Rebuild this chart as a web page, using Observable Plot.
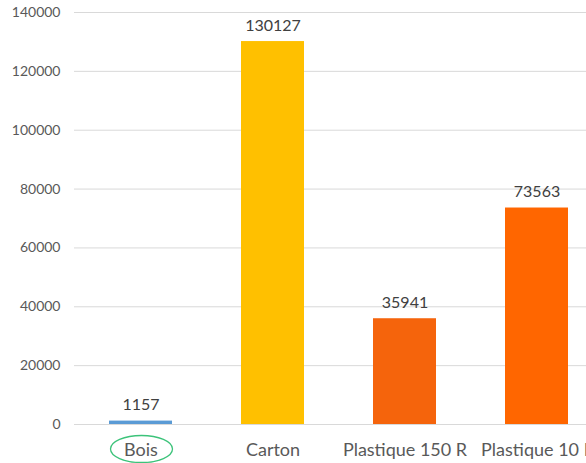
<!DOCTYPE html>
<html>
<head>
<meta charset="utf-8">
<script src="https://cdn.jsdelivr.net/npm/d3@7"></script>
<script src="https://cdn.jsdelivr.net/npm/@observablehq/plot@0.6"></script>
<style>
  html, body { margin: 0; padding: 0; background: #fff; overflow: hidden; }
  #chart { width: 586px; height: 463px; overflow: hidden; }
  #chart svg { max-width: none !important; }
</style>
</head>
<body>
<div id="chart"></div>
<script>
const categories = ["Bois", "Carton", "Plastique 150 R", "Plastique 10 L"];
const values = [1157, 130127, 35941, 73563];
const colors = ["#5B9BD5", "#FFC000", "#F5640C", "#FF6600"];
const yTicks = [0, 20000, 40000, 60000, 80000, 100000, 120000, 140000];
const highlighted = "Bois";

const data = categories.map((c, i) => ({category: c, value: values[i], color: colors[i]}));

const plot = Plot.plot({
  width: 602,
  height: 463,
  marginLeft: 74,
  marginRight: 0,
  marginTop: 12,
  marginBottom: 39,
  style: {fontFamily: "Lato, 'Open Sans', sans-serif", background: "#fff", maxWidth: "none"},
  x: {domain: categories, paddingInner: 0.523, paddingOuter: 0.2615, label: null, tickSize: 0, tickPadding: 0},
  y: {domain: [0, 140000], ticks: yTicks, label: null, tickSize: 0, tickPadding: 14, tickFormat: d => String(d), grid: false},
  marks: [
    Plot.ruleY(yTicks, {stroke: "#d9d9d9", strokeWidth: 1}),
    Plot.barY(data, {x: "category", y: "value", fill: "color"}),
    Plot.text(data, {x: "category", y: "value", text: d => String(d.value), dy: -16, lineAnchor: "middle", fontSize: 16, fill: "#404040"}),
    Plot.axisY({ticks: yTicks, tickSize: 0, tickPadding: 14, tickFormat: d => String(d), fontSize: 14, fill: "#595959", label: null}),
    Plot.axisX({tickSize: 0, tickPadding: 0, fontSize: 18, fill: "#595959", label: null, dy: 19})
  ]
});

const x = plot.scale("x");
const svg = d3.select(plot);
const cx = x.apply(highlighted) + x.bandwidth / 2;
svg.append("ellipse")
  .attr("cx", cx + 1)
  .attr("cy", 449)
  .attr("rx", 31)
  .attr("ry", 13.5)
  .attr("fill", "none")
  .attr("stroke", "#3CC37A")
  .attr("stroke-width", 1.3);

document.getElementById("chart").appendChild(plot);
</script>
</body>
</html>
